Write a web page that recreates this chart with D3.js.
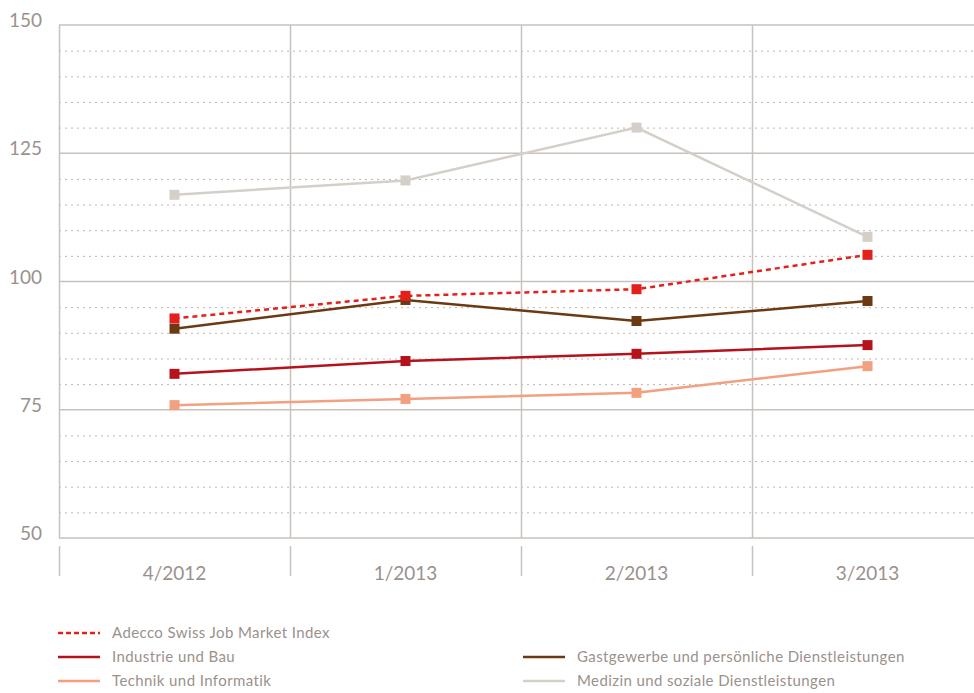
<!DOCTYPE html>
<html><head><meta charset="utf-8">
<script src="https://cdn.jsdelivr.net/npm/d3@7"></script>
<style>body{margin:0;background:#fff;} text{font-family:Lato,"Open Sans",sans-serif;}</style>
</head><body>
<svg id="c" width="974" height="693"></svg>
<script>
const categories = ["4/2012","1/2013","2/2013","3/2013"];
const yTicks = [50,75,100,125,150];
const adecco = [92.8, 97.2, 98.5, 105.2];
const industrie = [82.0, 84.5, 85.9, 87.6];
const technik = [75.9, 77.1, 78.3, 83.5];
const gastgewerbe = [90.8, 96.4, 92.3, 96.2];
const medizin = [116.9, 119.7, 130.0, 108.7];

const series = [
  {name:"Medizin und soziale Dienstleistungen", values:medizin, color:"#d5cfca", dash:null},
  {name:"Technik und Informatik", values:technik, color:"#f2a07f", dash:null},
  {name:"Industrie und Bau", values:industrie, color:"#b5121b", dash:null},
  {name:"Gastgewerbe und persönliche Dienstleistungen", values:gastgewerbe, color:"#6b3a12", dash:null},
  {name:"Adecco Swiss Job Market Index", values:adecco, color:"#e3201b", dash:"5,4"}
];

const svg = d3.select("#c");
const plotLeft = 59, bandW = 231, plotTop = 25, plotBottom = 538;
const x = d3.scaleBand().domain(categories).range([plotLeft, plotLeft + bandW*categories.length]);
const y = d3.scaleLinear().domain([50,150]).range([plotBottom, plotTop]);
const textCol = "#9b918c", gridCol = "#c9c1bc";

// dotted minor grid
const minor = d3.range(55,150,5).filter(v => v % 25 !== 0);
svg.append("g").selectAll("line").data(minor).join("line")
  .attr("x1", plotLeft).attr("x2", 974).attr("y1", d=>y(d)+0.5).attr("y2", d=>y(d)+0.5)
  .attr("stroke","#bdb5b0").attr("stroke-width",1).attr("stroke-dasharray","2,4");
// major grid
svg.append("g").selectAll("line").data(yTicks).join("line")
  .attr("x1", plotLeft).attr("x2", 974).attr("y1", d=>y(d)).attr("y2", d=>y(d))
  .attr("stroke",gridCol).attr("stroke-width",1.5);
// vertical band separators
svg.append("g").selectAll("line").data(categories).join("line")
  .attr("x1", d=>x(d)+0.5).attr("x2", d=>x(d)+0.5).attr("y1", plotTop).attr("y2", plotBottom)
  .attr("stroke",gridCol).attr("stroke-width",1.5);
// tick marks under axis
svg.append("g").selectAll("line").data(categories).join("line")
  .attr("x1", d=>x(d)+0.5).attr("x2", d=>x(d)+0.5).attr("y1", plotBottom+8).attr("y2", plotBottom+38)
  .attr("stroke",gridCol).attr("stroke-width",1.5);
// y labels
svg.append("g").selectAll("text").data(yTicks).join("text")
  .attr("x", 42).attr("y", d=>y(d)+2).attr("text-anchor","end")
  .attr("font-size",19).attr("fill",textCol).text(d=>d);
// x labels
svg.append("g").selectAll("text").data(categories).join("text")
  .attr("x", d=>x(d)+x.bandwidth()/2).attr("y", 580).attr("text-anchor","middle")
  .attr("font-size",19).attr("fill",textCol).text(d=>d);

const line = d3.line().x((d,i)=>x(categories[i])+x.bandwidth()/2).y(d=>y(d));
series.forEach(s => {
  const g = svg.append("g");
  g.append("path").datum(s.values).attr("d", line).attr("fill","none")
    .attr("stroke", s.color).attr("stroke-width", 2.5)
    .attr("stroke-dasharray", s.dash);
  g.selectAll("rect").data(s.values).join("rect")
    .attr("x",(d,i)=>x(categories[i])+x.bandwidth()/2-5).attr("y", d=>y(d)-5)
    .attr("width",10).attr("height",10).attr("fill", s.color);
});

// legend
const legend = [
  {s:series[4], lx:58, ly:633},
  {s:series[2], lx:58, ly:657},
  {s:series[1], lx:58, ly:681},
  {s:series[3], lx:523, ly:657},
  {s:series[0], lx:523, ly:681}
];
const lg = svg.append("g");
legend.forEach(l => {
  lg.append("line").attr("x1", l.lx).attr("x2", l.lx+42).attr("y1", l.ly).attr("y2", l.ly)
    .attr("stroke", l.s.color).attr("stroke-width", 2.5).attr("stroke-dasharray", l.s.dash ? "5,3" : null);
  lg.append("text").attr("x", l.lx+54).attr("y", l.ly+5).attr("font-size",15)
    .attr("letter-spacing", 0.4).attr("fill", textCol).text(l.s.name);
});
</script>
</body></html>
